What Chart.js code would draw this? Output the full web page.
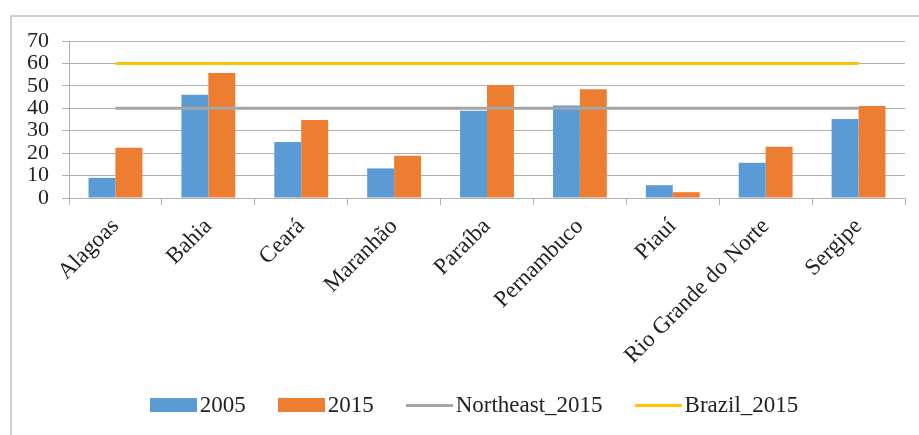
<!DOCTYPE html>
<html>
<head>
<meta charset="utf-8">
<script src="https://cdn.jsdelivr.net/npm/chart.js@4"></script>
<style>
  html, body { margin: 0; padding: 0; background: #fff; }
  #wrap { position: relative; width: 919px; height: 435px; overflow: hidden; }
  #frame { position: absolute; left: 10px; top: 15px; width: 1000px; height: 600px;
           border-left: 2px solid #d0d0d0; border-top: 2px solid #d0d0d0; }
  #chart { position: absolute; left: 0; top: 0; }
  #legend { position: absolute; left: 10px; width: 928px; top: 391px; height: 28px;
            display: flex; justify-content: center; align-items: center;
            font-family: "Liberation Serif", "Times New Roman", serif; font-size: 23px; color: #222; }
  .item { display: flex; align-items: center; margin: 0 16px; }
  .swatch { width: 47px; margin-right: 3px; }
</style>
</head>
<body>
<div id="wrap">
  <div id="frame"></div>
  <canvas id="chart" width="919" height="435"></canvas>
  <div id="legend"></div>
</div>
<script>
const categories = ['Alagoas', 'Bahia', 'Ceará', 'Maranhão', 'Paraíba', 'Pernambuco', 'Piauí', 'Rio Grande do Norte', 'Sergipe'];
const values2005 = [9.0, 46.0, 25.0, 13.2, 38.9, 41.2, 5.7, 15.7, 35.2];
const values2015 = [22.4, 55.7, 34.8, 18.8, 50.4, 48.5, 2.6, 22.8, 41.0];
const northeast2015 = [40, 40, 40, 40, 40, 40, 40, 40, 40];
const brazil2015 = [60, 60, 60, 60, 60, 60, 60, 60, 60];
const yTicks = [0, 10, 20, 30, 40, 50, 60, 70];

const gridColor = '#b0b0b0';
const serif = '"Liberation Serif", "Times New Roman", serif';

document.addEventListener("DOMContentLoaded", () => {
    const ctx = document.getElementById('chart').getContext('2d');

    const chart = new Chart(ctx, {
        type: 'bar',
        data: {
            labels: categories,
            datasets: [
                { label: '2005', data: values2005, backgroundColor: '#5b9bd5', order: 2 },
                { label: '2015', data: values2015, backgroundColor: '#ed7d31', order: 2 },
                { type: 'line', label: 'Northeast_2015', data: northeast2015, borderColor: '#a5a5a5',
                  backgroundColor: '#a5a5a5', borderWidth: 3, pointRadius: 0, order: 1 },
                { type: 'line', label: 'Brazil_2015', data: brazil2015, borderColor: '#ffc000',
                  backgroundColor: '#ffc000', borderWidth: 3, pointRadius: 0, order: 0 }
            ]
        },
        options: {
            responsive: false,
            animation: false,
            categoryPercentage: 0.58,
            barPercentage: 1.0,
            layout: { padding: { left: 0, right: 14, top: 41, bottom: 0 } },
            plugins: { legend: { display: false }, tooltip: { enabled: false } },
            scales: {
                x: {
                    grid: { drawOnChartArea: false, drawTicks: true, tickLength: 7, offset: true, color: gridColor },
                    border: { color: gridColor },
                    ticks: { autoSkip: false, minRotation: 45, maxRotation: 45, padding: 8,
                             color: '#222', font: { family: serif, size: 23 } },
                    afterFit: (scale) => { scale.height = 237; }
                },
                y: {
                    min: 0, max: 70,
                    afterBuildTicks: (scale) => { scale.ticks = yTicks.map(v => ({ value: v })); },
                    grid: { color: gridColor, tickLength: 7 },
                    border: { color: gridColor },
                    ticks: { autoSkip: false, padding: 13, color: '#222', font: { family: serif, size: 22 } },
                    afterFit: (scale) => { scale.width = 69; }
                }
            }
        }
    });

    // legend built from the datasets
    const legend = document.getElementById('legend');
    chart.data.datasets.forEach(ds => {
        const item = document.createElement('div');
        item.className = 'item';
        const sw = document.createElement('span');
        sw.className = 'swatch';
        if (ds.type === 'line') {
            sw.style.height = '3px';
        } else {
            sw.style.height = '14px';
        }
        sw.style.background = ds.type === 'line' ? ds.borderColor : ds.backgroundColor;
        const txt = document.createElement('span');
        txt.textContent = ds.label;
        item.appendChild(sw);
        item.appendChild(txt);
        legend.appendChild(item);
    });
});
</script>
</body>
</html>
